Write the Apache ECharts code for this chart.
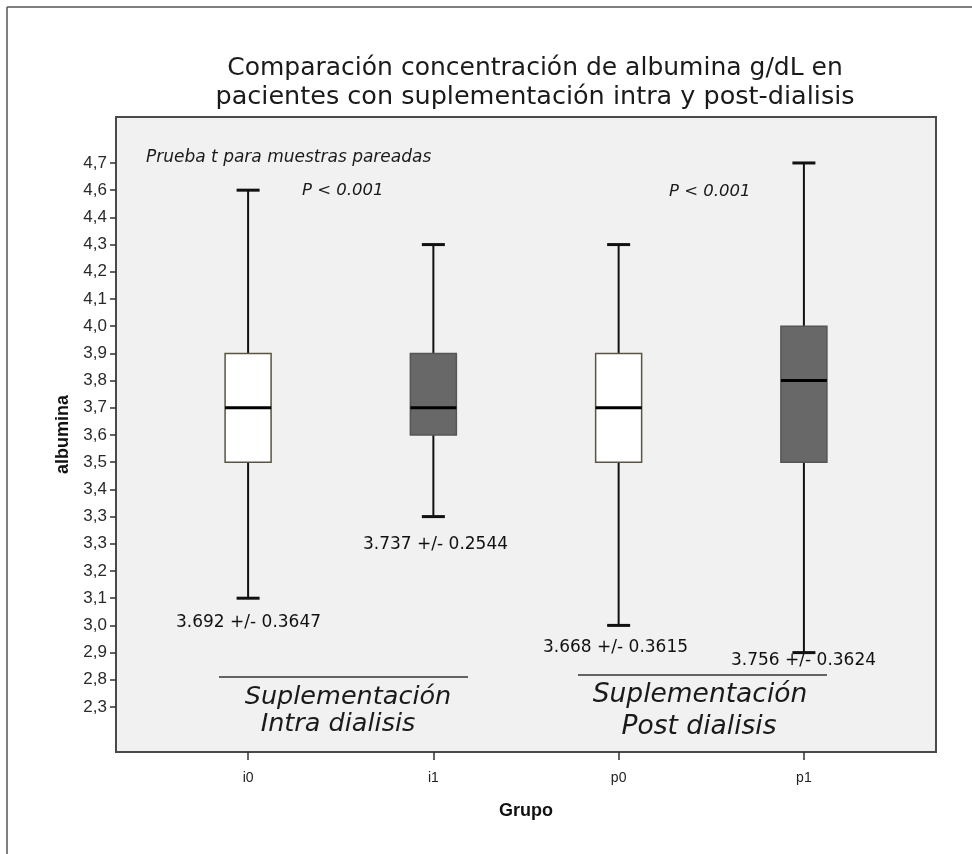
<!DOCTYPE html>
<html>
<head>
<meta charset="utf-8">
<script src="https://cdn.jsdelivr.net/npm/echarts@6/dist/echarts.min.js"></script>
<style>html,body{margin:0;padding:0;background:#fff;}#c{width:972px;height:854px;}</style>
</head>
<body>
<div id="c"></div>
<script>
// ---- data ----
const categories = ['i0', 'i1', 'p0', 'p1'];
// y tick labels from bottom to top (as printed on the original axis)
const yTickLabels = ['2,3','2,8','2,9','3,0','3,1','3,2','3,3','3,3','3,4','3,5','3,6','3,7','3,8','3,9','4,0','4,1','4,2','4,3','4,4','4,6','4,7'];
const boxMin    = [3.1, 3.3, 3.0, 2.9];
const boxQ1     = [3.5, 3.6, 3.5, 3.5];
const boxMedian = [3.7, 3.7, 3.7, 3.8];
const boxQ3     = [3.9, 3.9, 3.9, 4.0];
const boxMax    = [4.6, 4.3, 4.3, 4.7];
const boxFilled = [false, true, false, true];
const statLabels = ['3.692 +/- 0.3647', '3.737 +/- 0.2544', '3.668 +/- 0.3615', '3.756 +/- 0.3624'];

// map a value onto the (irregular) printed tick scale
function pos(v) {
  return yTickLabels.lastIndexOf(v.toFixed(1).replace('.', ','));
}
const boxData = categories.map((c, i) => [i, pos(boxMin[i]), pos(boxQ1[i]), pos(boxMedian[i]), pos(boxQ3[i]), pos(boxMax[i]), boxFilled[i] ? 1 : 0]);
const tickIdx = yTickLabels.map((_, i) => i);

const chart = echarts.init(document.getElementById('c'));
const PL = 116, PT = 117, PR = 936, PB = 752;

chart.setOption({
  animation: false,
  backgroundColor: '#ffffff',
  grid: { left: PL, top: PT, right: 972 - PR, bottom: 854 - PB, show: true, backgroundColor: '#f1f1f1', borderColor: '#4a4a4a', borderWidth: 2 },
  xAxis: {
    type: 'value', min: -0.713, max: 3.713,
    axisLine: { show: false, onZero: false },
    splitLine: { show: false },
    axisTick: { show: true, customValues: [0, 1, 2, 3], length: 8, lineStyle: { color: '#333', width: 1.5 } },
    axisLabel: { customValues: [0, 1, 2, 3], formatter: v => categories[Math.round(v)], margin: 19, color: '#222', fontSize: 14, fontFamily: 'Liberation Sans' },
    name: 'Grupo', nameLocation: 'middle', nameGap: 50,
    nameTextStyle: { fontSize: 18, fontWeight: 'bold', color: '#111', fontFamily: 'Liberation Sans' }
  },
  yAxis: {
    type: 'value', min: -1.654, max: 21.69,
    axisLine: { show: false, onZero: false },
    splitLine: { show: false },
    axisTick: { show: true, customValues: tickIdx, length: 6, lineStyle: { color: '#333', width: 1.5 } },
    axisLabel: { customValues: tickIdx, formatter: v => yTickLabels[Math.round(v)], margin: 9, color: '#2a2a2a', fontSize: 17, fontFamily: 'Liberation Sans' },
    name: 'albumina', nameLocation: 'middle', nameGap: 43, nameRotate: 90,
    nameTextStyle: { fontSize: 18, fontWeight: 'bold', color: '#111', fontFamily: 'Liberation Sans' }
  },
  series: [{
    type: 'custom',
    data: boxData,
    encode: { x: 0, y: [1, 2, 3, 4, 5] },
    renderItem: function (params, api) {
      const x = api.value(0);
      const pMin = api.coord([x, api.value(1)]);
      const pQ1 = api.coord([x, api.value(2)]);
      const pMed = api.coord([x, api.value(3)]);
      const pQ3 = api.coord([x, api.value(4)]);
      const pMax = api.coord([x, api.value(5)]);
      const filled = api.value(6) === 1;
      const cx = pMed[0];
      const bw = 46, cw = 23;
      const lineStyle = { stroke: '#111', lineWidth: 2 };
      return {
        type: 'group',
        children: [
          { type: 'line', shape: { x1: cx, y1: pQ3[1], x2: cx, y2: pMax[1] }, style: lineStyle },
          { type: 'line', shape: { x1: cx, y1: pQ1[1], x2: cx, y2: pMin[1] }, style: lineStyle },
          { type: 'line', shape: { x1: cx - cw / 2, y1: pMax[1], x2: cx + cw / 2, y2: pMax[1] }, style: { stroke: '#111', lineWidth: 3 } },
          { type: 'line', shape: { x1: cx - cw / 2, y1: pMin[1], x2: cx + cw / 2, y2: pMin[1] }, style: { stroke: '#111', lineWidth: 3 } },
          { type: 'rect', shape: { x: cx - bw / 2, y: pQ3[1], width: bw, height: pQ1[1] - pQ3[1] },
            style: { fill: filled ? '#686868' : '#ffffff', stroke: filled ? '#555' : '#5c5442', lineWidth: 1.5 } },
          { type: 'line', shape: { x1: cx - bw / 2, y1: pMed[1], x2: cx + bw / 2, y2: pMed[1] }, style: { stroke: '#000', lineWidth: 3 } }
        ]
      };
    }
  }],
  graphic: [
    { type: 'line', shape: { x1: 7, y1: 7, x2: 972, y2: 7 }, style: { stroke: '#555', lineWidth: 1.5 } },
    { type: 'line', shape: { x1: 7, y1: 7, x2: 7, y2: 854 }, style: { stroke: '#555', lineWidth: 1.5 } },
    { type: 'text', x: 535, y: 68, style: { text: 'Comparación concentración de albumina g/dL en', fill: '#1a1a1a', font: '25px "DejaVu Sans"', align: 'center', verticalAlign: 'middle' } },
    { type: 'text', x: 535, y: 97, style: { text: 'pacientes con suplementación intra y post-dialisis', fill: '#1a1a1a', font: '25.5px "DejaVu Sans"', align: 'center', verticalAlign: 'middle' } },
    { type: 'text', x: 146, y: 158, style: { text: 'Prueba t para muestras pareadas', fill: '#1a1a1a', font: 'italic 17px "DejaVu Sans"', align: 'left', verticalAlign: 'middle' } },
    { type: 'text', x: 302, y: 191, style: { text: 'P < 0.001', fill: '#1a1a1a', font: 'italic 16.5px "DejaVu Sans"', align: 'left', verticalAlign: 'middle' } },
    { type: 'text', x: 669, y: 192, style: { text: 'P < 0.001', fill: '#1a1a1a', font: 'italic 16.5px "DejaVu Sans"', align: 'left', verticalAlign: 'middle' } },
    { type: 'text', x: 176, y: 623, style: { text: statLabels[0], fill: '#111', font: '17px "DejaVu Sans"', align: 'left', verticalAlign: 'middle' } },
    { type: 'text', x: 363, y: 545, style: { text: statLabels[1], fill: '#111', font: '17px "DejaVu Sans"', align: 'left', verticalAlign: 'middle' } },
    { type: 'text', x: 543, y: 648, style: { text: statLabels[2], fill: '#111', font: '17px "DejaVu Sans"', align: 'left', verticalAlign: 'middle' } },
    { type: 'text', x: 731, y: 661, style: { text: statLabels[3], fill: '#111', font: '17px "DejaVu Sans"', align: 'left', verticalAlign: 'middle' } },
    { type: 'line', shape: { x1: 219, y1: 677, x2: 468, y2: 677 }, style: { stroke: '#333', lineWidth: 1.5 } },
    { type: 'line', shape: { x1: 578, y1: 675, x2: 827, y2: 675 }, style: { stroke: '#333', lineWidth: 1.5 } },
    { type: 'text', x: 348, y: 697, style: { text: 'Suplementación', fill: '#1a1a1a', font: 'italic 25.5px "DejaVu Sans"', align: 'center', verticalAlign: 'middle' } },
    { type: 'text', x: 338, y: 724, style: { text: 'Intra dialisis', fill: '#1a1a1a', font: 'italic 25.5px "DejaVu Sans"', align: 'center', verticalAlign: 'middle' } },
    { type: 'text', x: 700, y: 695, style: { text: 'Suplementación', fill: '#1a1a1a', font: 'italic 26.5px "DejaVu Sans"', align: 'center', verticalAlign: 'middle' } },
    { type: 'text', x: 699, y: 727, style: { text: 'Post dialisis', fill: '#1a1a1a', font: 'italic 26.5px "DejaVu Sans"', align: 'center', verticalAlign: 'middle' } }
  ]
});
</script>
</body>
</html>
